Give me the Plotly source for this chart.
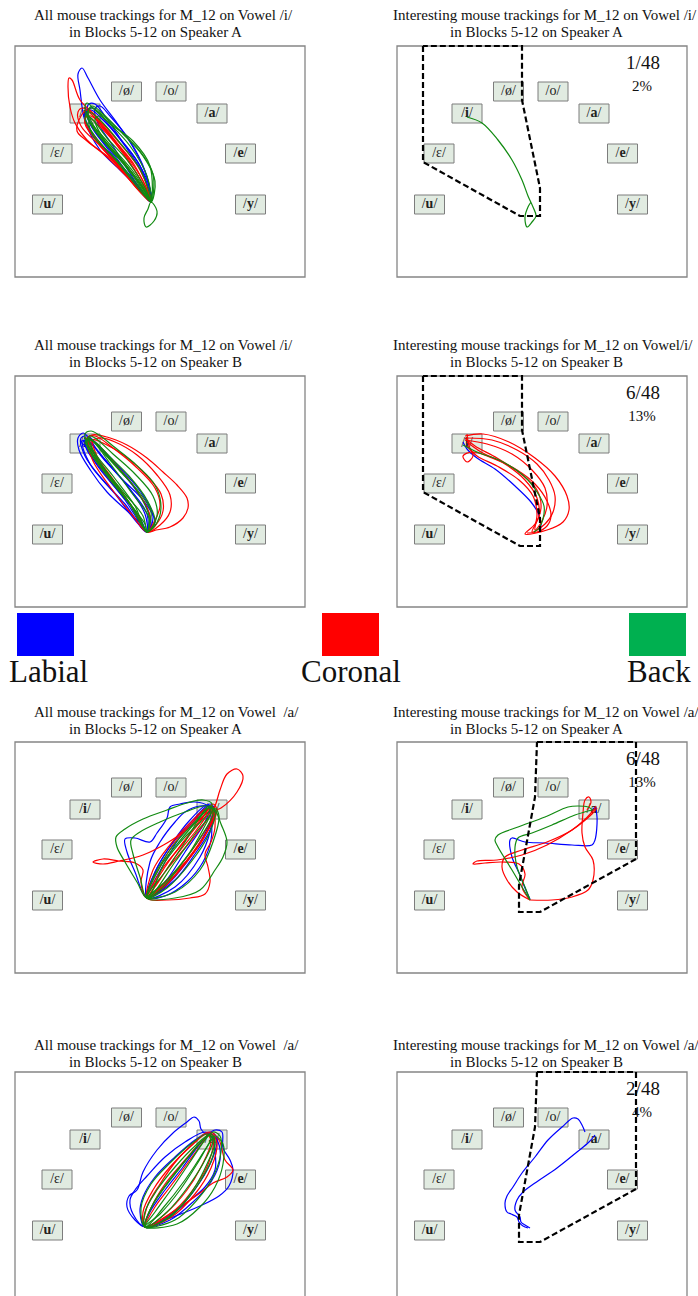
import plotly.graph_objects as go

FIG_W, FIG_H = 698, 1296
BOX_W, BOX_H = 290, 231
PAD = 5
PANEL_LEFT = [15, 397]
ROW_TOP = [46, 376, 742, 1072]

SERIF = "Liberation Serif, Times New Roman, serif"
C_LABIAL = "#0000ff"
C_CORONAL = "#ff0000"
C_BACK = "#118a11"

# ---------------- text data ----------------
TITLE_LINE1 = [
    "All mouse trackings for M_12 on Vowel /i/",
    "Interesting mouse trackings for M_12 on Vowel /i/",
    "All mouse trackings for M_12 on Vowel /i/",
    "Interesting mouse trackings for M_12 on Vowel/i/",
    "All mouse trackings for M_12 on Vowel  /a/",
    "Interesting mouse trackings for M_12 on Vowel /a/",
    "All mouse trackings for M_12 on Vowel  /a/",
    "Interesting mouse trackings for M_12 on Vowel /a/",
]
TITLE_LINE2 = [
    "in Blocks 5-12 on Speaker A",
    "in Blocks 5-12 on Speaker A",
    "in Blocks 5-12 on Speaker B",
    "in Blocks 5-12 on Speaker B",
    "in Blocks 5-12 on Speaker A",
    "in Blocks 5-12 on Speaker A",
    "in Blocks 5-12 on Speaker B",
    "in Blocks 5-12 on Speaker B",
]
FRACTION = [None, "1/48", None, "6/48", None, "6/48", None, "2/48"]
PERCENT = [None, "2%", None, "13%", None, "13%", None, "4%"]

VOWELS = ["/ø/", "/o/", "/<b>i</b>/", "/<b>a</b>/", "/ε/", "/<b>e</b>/", "/<b>u</b>/", "/<b>y</b>/"]
VOWEL_X = [111.5, 156, 70, 197, 42, 225.5, 32.5, 235.5]
VOWEL_Y = [45.5, 45.5, 67.5, 67.5, 107.5, 107.5, 158.5, 158.5]

LEGEND_NAMES = ["Labial", "Coronal", "Back"]
LEGEND_COLORS = ["#0000ff", "#ff0000", "#00b050"]

# ---------------- region polygons ----------------
REGION_I = [(26, 0), (26, 116), (123, 170), (143, 170), (143, 142), (125, 54), (125, 0), (26, 0)]
REGION_A = [(140, 0), (239, 0), (239, 117), (143, 170), (122, 170), (122, 143), (138, 55), (140, 0)]

# ---------------- trajectories (panel-relative coordinates) ----------------
# Panel 1: all /i/, speaker A
P1_LABIAL = [
    [(136,156),(132,131),(118,101),(102,77),(85,54),(73,32),(67,22),(63,28),(65,44),(70,75),(85,104),(105,124),(125,144),(136,156)],
    [(136,156),(125,120),(105,92),(90,70),(80,58),(74,58),(72,66),(80,85),(100,110),(122,140),(136,156)],
    [(136,156),(128,128),(110,100),(88,72),(78,62),(72,64),(75,78),(92,102),(115,130),(136,156)],
    [(136,156),(130,125),(115,95),(95,70),(85,60),(80,63),(82,75),(98,100),(120,135),(136,156)],
    [(136,156),(134,140),(124,118),(106,94),(88,74),(76,64),(70,68),(74,82),(92,106),(114,132),(136,156)],
]
P1_CORONAL = [
    [(136,156),(125,124),(102,94),(82,71),(65,54),(57,34),(54,32),(53,41),(55,61),(60,77),(72,94),(92,111),(118,137),(136,156)],
    [(136,156),(120,120),(100,95),(80,72),(68,62),(63,66),(66,80),(85,100),(110,128),(136,156)],
    [(136,156),(128,135),(108,105),(88,82),(76,70),(70,72),(74,84),(95,108),(120,140),(136,156)],
    [(136,156),(122,128),(104,100),(85,76),(72,64),(66,70),(62,85),(72,95),(98,115),(125,146),(136,156)],
    [(136,156),(130,142),(114,116),(96,92),(80,76),(72,70),(70,78),(84,98),(106,122),(128,148),(136,156)],
]
P1_BACK = [
    [(136,156),(132,130),(115,100),(95,78),(80,64),(72,57),(70,62),(76,78),(95,102),(118,130),(136,156)],
    [(136,156),(140,135),(128,110),(108,88),(88,68),(77,60),(73,66),(82,85),(105,112),(128,142),(136,156)],
    [(136,156),(126,125),(106,98),(86,75),(74,66),(70,72),(80,90),(104,118),(128,148),(136,156)],
    [(136,156),(120,128),(98,102),(82,84),(74,76),(78,90),(100,112),(125,142),(136,156)],
    [(136,156),(142,165),(139,175),(131,181),(129,172),(133,163),(136,156)],
    [(136,156),(135,120),(118,95),(98,80),(84,70),(80,74),(90,95),(112,120),(132,148),(136,156)],
    [(136,156),(138,128),(124,104),(104,84),(86,68),(76,62),(72,68),(84,90),(108,116),(130,146),(136,156)],
    [(136,156),(128,138),(112,114),(92,92),(78,74),(72,70),(78,82),(96,104),(118,128),(136,156)],
]

# Panel 2: interesting /i/, speaker A
P2_LABIAL = []
P2_CORONAL = []
P2_BACK = [
    [(70,71),(85,77),(101,94),(115,114),(125,134),(131,150),(136,161),(139,170),(135,176),(130,181),(128,171),(131,161),(134,156)],
]

# Panel 3: all /i/, speaker B
P3_LABIAL = [
    [(132,156),(128,150),(110,133),(92,116),(76,95),(64,74),(63,62),(68,57),(74,62),(86,80),(108,104),(128,124),(140,146),(132,156)],
    [(132,156),(138,140),(125,115),(105,92),(86,72),(72,60),(66,62),(70,80),(88,104),(110,128),(132,156)],
    [(132,156),(136,148),(130,128),(110,100),(90,78),(76,64),(68,66),(75,88),(100,118),(120,144),(132,156)],
    [(132,156),(124,140),(104,116),(84,92),(70,70),(66,66),(72,64),(90,84),(114,112),(132,138),(132,156)],
    [(132,156),(130,138),(114,112),(94,88),(78,70),(70,64),(72,74),(88,96),(110,124),(132,156)],
]
P3_CORONAL = [
    [(132,156),(141,154),(155,151),(168,142),(173,132),(172,122),(162,109),(148,96),(132,82),(112,69),(92,61),(77,59),(72,64),(80,80),(98,105),(118,132),(132,156)],
    [(132,156),(145,149),(155,136),(155,119),(142,99),(122,79),(100,66),(85,62),(76,66),(84,86),(104,112),(124,142),(132,156)],
    [(132,156),(140,150),(148,135),(146,118),(132,100),(110,80),(90,68),(78,64),(82,80),(100,106),(120,136),(132,156)],
    [(132,156),(138,148),(145,130),(140,112),(120,90),(98,72),(80,60),(72,62),(78,85),(96,112),(118,140),(132,156)],
    [(132,156),(135,140),(120,112),(100,88),(84,70),(74,64),(76,76),(92,100),(115,128),(132,156)],
]
P3_BACK = [
    [(132,156),(138,152),(145,139),(145,122),(138,106),(118,86),(98,70),(84,59),(76,55),(70,58),(76,76),(96,102),(118,132),(132,156)],
    [(132,156),(134,140),(120,112),(98,86),(82,68),(72,62),(74,72),(90,96),(112,124),(132,156)],
    [(132,156),(140,146),(132,124),(114,100),(94,80),(80,66),(74,64),(80,80),(100,108),(124,140),(132,156)],
    [(132,156),(128,140),(110,118),(92,96),(78,76),(70,66),(76,64),(94,86),(116,116),(134,142),(132,156)],
    [(132,156),(136,136),(124,116),(104,94),(86,74),(74,62),(72,70),(86,92),(108,120),(130,148),(132,156)],
    [(132,156),(142,140),(138,120),(120,98),(98,78),(80,62),(74,60),(78,74),(98,100),(120,130),(132,156)],
]

# Panel 4: interesting /i/, speaker B
P4_LABIAL = [
    [(66,66),(70,73),(80,82),(98,93),(118,110),(134,126),(141,137),(144,148),(143,155)],
]
P4_CORONAL = [
    [(68,60),(86,58),(112,66),(138,82),(158,100),(170,120),(172,134),(166,146),(150,154),(128,158),(138,148),(144,132),(140,114),(124,98),(100,82),(78,70),(68,62)],
    [(70,62),(95,64),(120,74),(140,88),(152,104),(158,120),(156,136),(148,148),(135,156),(142,140),(140,122),(128,104),(108,88),(84,76),(70,66)],
    [(68,64),(90,68),(115,78),(135,94),(148,112),(150,130),(145,145),(138,154),(140,138),(136,120),(122,104),(100,90),(80,80),(70,70)],
    [(70,58),(72,70),(76,80),(70,86),(66,80),(75,76),(95,82),(120,94),(138,108),(150,125),(154,140),(150,150),(140,156),(130,157)],
]
P4_BACK = [
    [(66,69),(80,76),(104,85),(127,100),(140,116),(147,130),(146,143),(142,152),(137,156)],
]

# Panel 5: all /a/, speaker A
P5_LABIAL = [
    [(132,156),(120,130),(112,110),(110,97),(120,96),(135,100),(142,91),(152,76),(155,65),(165,62),(180,60),(193,64),(196,75),(196,98),(188,120),(172,140),(150,154),(132,156)],
    [(132,156),(140,130),(158,100),(175,78),(192,63),(198,68),(195,90),(185,115),(160,145),(132,156)],
    [(132,156),(150,120),(165,95),(180,78),(194,64),(198,72),(188,95),(172,120),(150,145),(132,156)],
    [(132,156),(135,120),(145,100),(160,80),(170,70),(185,64),(195,65),(190,80),(170,110),(150,140),(132,156)],
    [(132,156),(142,126),(160,98),(180,76),(195,62),(200,68),(196,86),(180,112),(160,138),(132,156)],
]
P5_CORONAL = [
    [(132,156),(150,130),(175,100),(192,78),(200,64),(205,48),(212,32),(222,27),(228,34),(222,50),(206,66),(196,70),(180,90),(160,115),(140,145),(132,156)],
    [(132,156),(126,140),(128,128),(120,121),(104,119),(88,117),(78,120),(88,122),(104,119),(128,113),(152,101),(174,86),(192,71),(198,66),(195,80),(180,104),(158,132),(132,156)],
    [(132,156),(152,158),(175,156),(190,152),(195,140),(193,125),(190,112),(196,100),(200,85),(198,70),(190,68),(178,80),(160,100),(145,125),(132,156)],
    [(132,156),(145,130),(165,105),(185,80),(196,64),(200,70),(192,90),(175,115),(150,140),(132,156)],
    [(132,156),(150,125),(172,95),(190,72),(198,62),(202,68),(195,85),(178,110),(158,135),(132,156)],
    [(132,156),(138,128),(154,104),(174,82),(192,66),(198,70),(190,94),(170,122),(148,146),(132,156)],
]
P5_BACK = [
    [(132,156),(122,140),(110,120),(102,105),(101,95),(110,87),(128,77),(152,68),(172,61),(188,58),(197,62),(190,75),(170,95),(150,120),(132,156)],
    [(132,156),(160,156),(185,148),(200,128),(208,115),(212,100),(206,82),(200,68),(194,64),(185,75),(170,100),(150,130),(132,156)],
    [(132,156),(125,135),(118,112),(116,98),(125,90),(145,80),(170,70),(192,64),(196,70),(180,92),(160,120),(132,156)],
    [(132,156),(150,140),(175,110),(192,80),(200,66),(204,74),(198,100),(185,128),(160,150),(132,156)],
    [(132,156),(145,125),(168,95),(188,72),(196,64),(198,72),(185,96),(165,124),(145,148),(132,156)],
    [(132,156),(140,132),(158,104),(178,82),(194,66),(200,70),(194,92),(176,120),(152,146),(132,156)],
]

# Panel 6: interesting /a/, speaker A
P6_LABIAL = [
    [(133,157),(128,146),(123,133),(115,115),(113,98),(115,96),(128,100),(148,101),(175,103),(195,103),(198,98),(200,75),(198,66),(195,68)],
]
P6_CORONAL = [
    [(133,158),(125,145),(128,132),(122,122),(105,120),(88,121),(76,122),(80,119),(100,118),(125,113),(150,103),(175,88),(195,72),(200,66)],
    [(133,158),(155,158),(175,155),(191,148),(196,138),(196,118),(188,105),(185,91),(186,71),(188,58),(192,55),(194,60),(190,68)],
    [(133,158),(120,150),(110,138),(105,125),(108,115),(125,108),(150,100),(175,88),(195,70),(199,64)],
]
P6_BACK = [
    [(133,158),(125,145),(115,128),(101,105),(98,98),(101,93),(121,85),(148,75),(171,65),(181,64),(191,65),(196,68)],
    [(133,158),(128,145),(120,125),(118,105),(121,96),(135,91),(155,83),(178,73),(195,68)],
]

# Panel 7: all /a/, speaker B
P7_LABIAL = [
    [(130,155),(120,148),(112,135),(114,124),(122,118),(128,100),(142,78),(158,61),(172,50),(179,45),(184,49),(186,57),(192,62),(200,58),(207,60),(208,76),(215,88),(218,98),(214,114),(204,124),(185,134),(158,145),(138,152),(130,155)],
    [(130,155),(118,142),(115,128),(120,118),(132,104),(150,85),(170,70),(190,60),(196,64),(200,80),(200,98),(190,115),(170,132),(150,148),(130,155)],
    [(130,155),(125,140),(128,125),(140,105),(160,85),(180,68),(195,60),(202,66),(198,85),(185,110),(165,135),(130,155)],
    [(130,155),(135,140),(150,118),(168,95),(185,72),(196,62),(203,70),(205,88),(196,110),(178,130),(155,148),(130,155)],
]
P7_CORONAL = [
    [(130,155),(140,135),(155,115),(172,92),(188,70),(195,60),(204,68),(210,88),(218,98),(212,105),(198,111),(185,121),(165,135),(145,148),(130,155)],
    [(130,155),(132,135),(145,112),(162,88),(180,70),(193,60),(198,66),(194,90),(182,112),(160,138),(130,155)],
    [(130,155),(128,140),(138,118),(155,95),(175,75),(192,62),(196,70),(186,95),(172,118),(150,142),(130,155)],
    [(130,155),(136,136),(150,112),(170,88),(188,68),(197,62),(202,72),(196,96),(180,122),(155,146),(130,155)],
]
P7_BACK = [
    [(130,155),(140,140),(158,115),(175,90),(190,68),(198,60),(205,64),(206,80),(198,105),(182,128),(160,148),(130,155)],
    [(130,155),(135,138),(150,115),(168,92),(186,70),(196,62),(200,70),(192,92),(178,118),(155,145),(130,155)],
    [(130,155),(130,140),(142,118),(160,95),(180,74),(194,63),(198,68),(190,88),(175,112),(152,140),(130,155)],
    [(130,155),(145,142),(165,118),(182,92),(195,70),(200,64),(208,72),(208,92),(200,115),(185,135),(162,152),(130,155)],
    [(130,155),(138,132),(156,106),(176,82),(193,64),(199,66),(198,84),(186,108),(168,132),(146,150),(130,155)],
    [(130,155),(126,136),(136,112),(156,90),(176,72),(192,62),(196,66),(186,84),(170,108),(148,136),(130,155)],
]

# Panel 8: interesting /a/, speaker B
P8_LABIAL = [
    [(131,156),(126,154),(122,150),(120,145),(114,142),(110,140),(108,131),(110,124),(116,115),(125,101),(138,85),(151,68),(165,55),(176,46),(181,47),(185,53),(188,60)],
    [(133,156),(128,153),(124,150),(123,145),(118,138),(120,128),(126,120),(138,111),(160,96),(180,80),(192,70),(198,63)],
]
P8_CORONAL = []
P8_BACK = []

PANEL_TRACES = [
    (P1_LABIAL, P1_CORONAL, P1_BACK), (P2_LABIAL, P2_CORONAL, P2_BACK),
    (P3_LABIAL, P3_CORONAL, P3_BACK), (P4_LABIAL, P4_CORONAL, P4_BACK),
    (P5_LABIAL, P5_CORONAL, P5_BACK), (P6_LABIAL, P6_CORONAL, P6_BACK),
    (P7_LABIAL, P7_CORONAL, P7_BACK), (P8_LABIAL, P8_CORONAL, P8_BACK),
]
PANEL_REGION = [None, REGION_I, None, REGION_I, None, REGION_A, None, REGION_A]

# ---------------- build figure ----------------
fig = go.Figure()
shapes = []
annotations = []
layout_axes = {}


def px_x(p):
    return p / FIG_W


def px_y(p):
    return 1 - p / FIG_H


for k in range(8):
    row, col = k // 2, k % 2
    left = PANEL_LEFT[col]
    top = ROW_TOP[row]
    n = "" if k == 0 else str(k + 1)
    xr, yr = "x" + n, "y" + n

    ybot_px = min(top + BOX_H + PAD, FIG_H)
    layout_axes["xaxis" + n] = dict(
        domain=[px_x(left - PAD), px_x(left + BOX_W + PAD)],
        range=[-PAD, BOX_W + PAD], visible=False, anchor=yr, fixedrange=True)
    layout_axes["yaxis" + n] = dict(
        domain=[px_y(ybot_px), px_y(top - PAD)],
        range=[ybot_px - top, -PAD], visible=False, anchor=xr, fixedrange=True)

    # panel frame
    shapes.append(dict(type="rect", xref="paper", yref="paper",
                       x0=px_x(left), x1=px_x(left + BOX_W),
                       y0=px_y(top + BOX_H), y1=px_y(top),
                       line=dict(color="#858585", width=1.3), layer="below"))

    # vowel label boxes
    for vx, vy in zip(VOWEL_X, VOWEL_Y):
        shapes.append(dict(type="rect", xref=xr, yref=yr,
                           x0=vx - 15, x1=vx + 15, y0=vy - 9.5, y1=vy + 9.5,
                           fillcolor="#e1ebe1", line=dict(color="#7d7d7d", width=1),
                           layer="below"))
    fig.add_trace(go.Scatter(x=VOWEL_X, y=VOWEL_Y, text=VOWELS, mode="text",
                             textfont=dict(family=SERIF, size=14, color="#222222"),
                             xaxis=xr, yaxis=yr, showlegend=False, hoverinfo="skip"))

    # trajectories
    for paths, color in zip(PANEL_TRACES[k], [C_LABIAL, C_CORONAL, C_BACK]):
        for path in paths:
            fig.add_trace(go.Scatter(
                x=[p[0] for p in path], y=[p[1] for p in path], mode="lines",
                line=dict(color=color, width=1.2, shape="spline", smoothing=1.0),
                xaxis=xr, yaxis=yr, showlegend=False, hoverinfo="skip"))

    # region polygon
    reg = PANEL_REGION[k]
    if reg is not None:
        fig.add_trace(go.Scatter(
            x=[p[0] for p in reg], y=[p[1] for p in reg], mode="lines",
            line=dict(color="black", width=2.2, dash="6px,3px"),
            xaxis=xr, yaxis=yr, showlegend=False, hoverinfo="skip"))

    # fraction text
    if FRACTION[k] is not None:
        fig.add_trace(go.Scatter(
            x=[246, 245], y=[18, 41], text=[FRACTION[k], PERCENT[k]], mode="text",
            textfont=dict(family=SERIF, size=[19, 15], color="#111111"),
            xaxis=xr, yaxis=yr, showlegend=False, hoverinfo="skip"))

    # titles
    t1_y = [15, 345, 712, 1045][row]
    t2_y = t1_y + 17
    t1_x = [32, 391][col]
    t2_x = [67, 448][col]
    annotations.append(dict(text=TITLE_LINE1[k], x=px_x(t1_x), y=px_y(t1_y),
                            xref="paper", yref="paper", xanchor="left", yanchor="middle",
                            showarrow=False, font=dict(family=SERIF, size=15, color="#111111")))
    annotations.append(dict(text=TITLE_LINE2[k], x=px_x(t2_x), y=px_y(t2_y),
                            xref="paper", yref="paper", xanchor="left", yanchor="middle",
                            showarrow=False, font=dict(family=SERIF, size=15, color="#111111")))

# legend row
LEG_SQ_X = [17, 322, 629]
LEG_TXT_X = [48, 351, 659]
for name, color, sx, tx in zip(LEGEND_NAMES, LEGEND_COLORS, LEG_SQ_X, LEG_TXT_X):
    shapes.append(dict(type="rect", xref="paper", yref="paper",
                       x0=px_x(sx), x1=px_x(sx + 57), y0=px_y(656), y1=px_y(613),
                       fillcolor=color, line=dict(width=0)))
    annotations.append(dict(text=name, x=px_x(tx), y=px_y(671), xref="paper", yref="paper",
                            xanchor="center", yanchor="middle", showarrow=False,
                            font=dict(family=SERIF, size=31, color="#111111")))

fig.update_layout(
    width=FIG_W, height=FIG_H, margin=dict(l=0, r=0, t=0, b=0),
    paper_bgcolor="white", plot_bgcolor="white",
    shapes=shapes, annotations=annotations, showlegend=False,
    **layout_axes)

fig.write_html(
    "out.html",
    config={"displayModeBar": False},
    post_script="document.body.style.margin='0';document.body.style.overflow='hidden';",
)
